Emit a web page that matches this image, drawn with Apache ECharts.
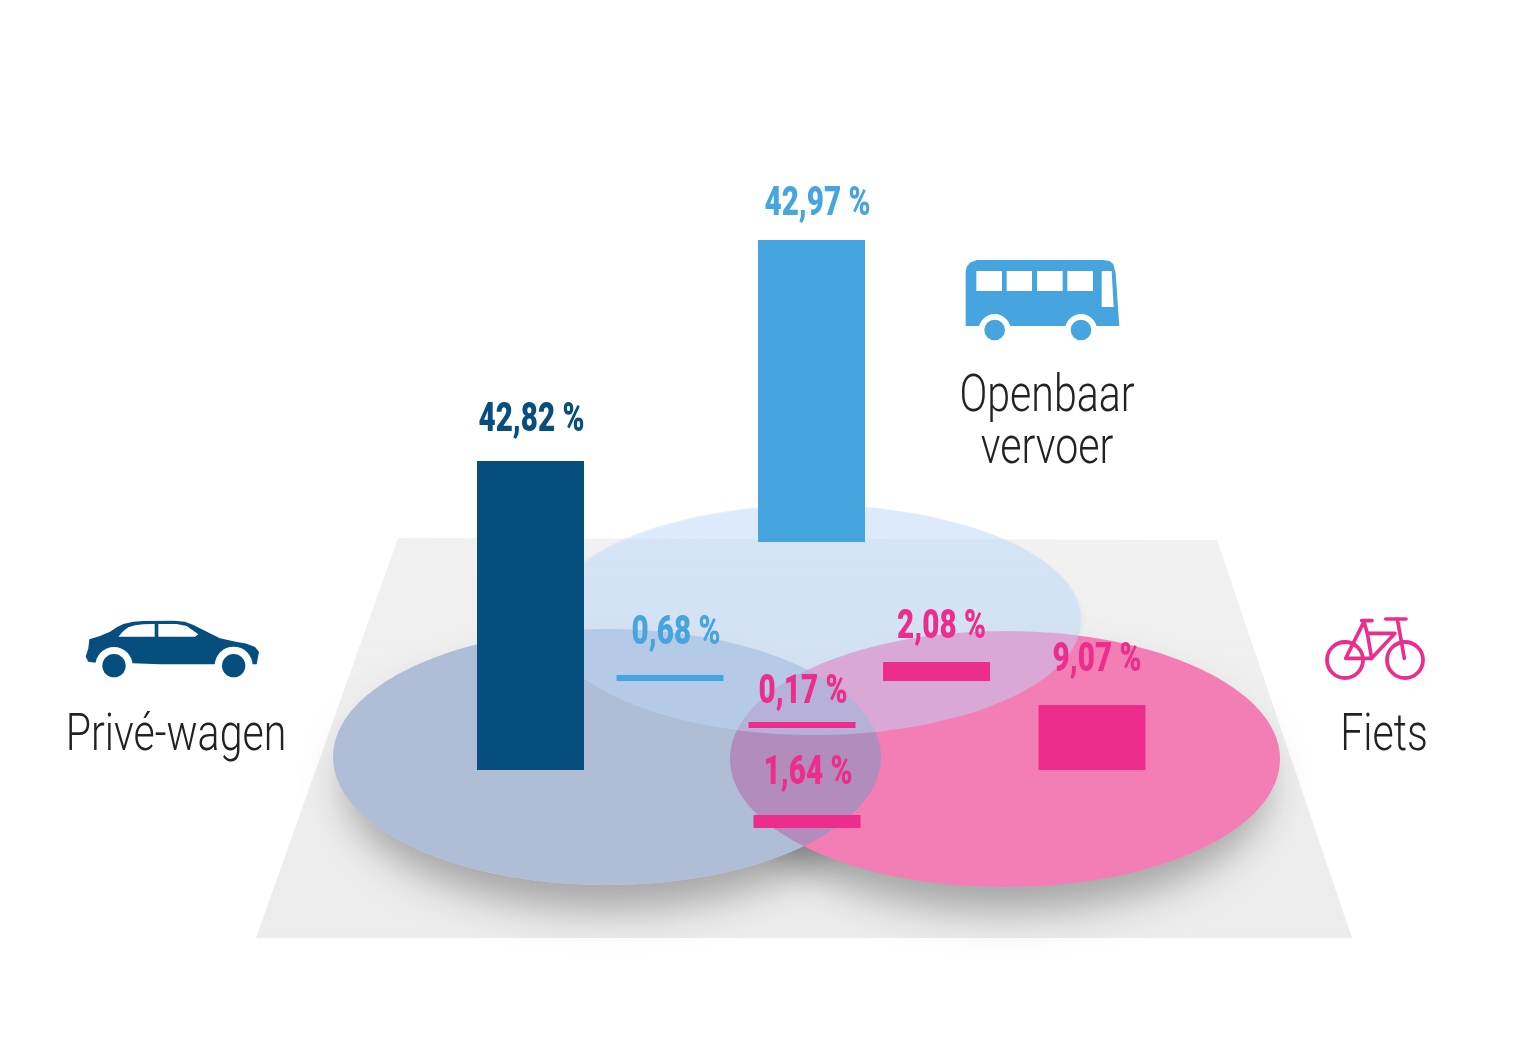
<!DOCTYPE html>
<html><head><meta charset="utf-8">
<style>html,body{margin:0;padding:0;background:#fff}#c{width:1529px;height:1046px}</style>
<script src="https://cdn.jsdelivr.net/npm/echarts@6/dist/echarts.min.js"></script>
</head><body><div id="c"></div>
<script>
// ---- data ----
const categories = ['Privé-wagen','Openbaar vervoer','Privé-wagen + openbaar vervoer','Alle drie','Privé-wagen + fiets','Openbaar vervoer + fiets','Fiets'];
const percentages = [42.82,42.97,0.68,0.17,1.64,2.08,9.07];
// bar lengths as drawn in the source (the small bars are thicker than scale), in axis units
const barLengths = [42.92,41.94,0.83,0.83,1.8,2.64,9.03];
const groupNames = ['Privé-wagen','Openbaar\nvervoer','Fiets'];

// ---- layout ----
const W=1529,H=1046,UNIT=7.2;
const barCenters=[530.5,811.5,670,802,807,936.5,1092];
const barBases=[38.33,70,50.69,44.17,30.28,50.69,38.33];
const labelDx=[1,6,6,1,1,5,5];
const labelGap=[26,21,27,15,27,20,30];
const BAR_W=107;
const DARK='#054e7e',BLUE='#46a5df',PINK='#ec2d8c';
const barColors=[DARK,BLUE,BLUE,PINK,PINK,PINK,PINK];
const BOLD='900 40px Roboto';
const LIGHT='300 52px Roboto';

const E=(cx,cy,rx,ry,style)=>({type:'ellipse',shape:{cx,cy,rx,ry},style,silent:true});
const shadowCaster=(cx,cy,rx,ry)=>E(cx-3000,cy,rx,ry,{fill:'#000',shadowBlur:38,shadowColor:'rgba(0,0,0,0.30)',shadowOffsetX:3000,shadowOffsetY:0});

const CAR={cx:607,cy:757,rx:274,ry:128}, BUS={cx:814,cy:620,rx:267,ry:115}, BIKE={cx:1005,cy:759,rx:275,ry:128};

function scaled(pts,ox,oy){return pts.map(p=>[p[0]/3+ox,p[1]/3+oy]);}
function poly(pts,ox,oy,fill){return {type:'polygon',shape:{points:scaled(pts,ox,oy)},style:{fill}};}
function circ(x,y,r,ox,oy,style){return {type:'circle',shape:{cx:x/3+ox,cy:y/3+oy,r:r/3},style};}
function line(pts,ox,oy){return {type:'polyline',shape:{points:scaled(pts,ox,oy)},style:{stroke:PINK,fill:null,lineWidth:3.6,lineCap:'round',lineJoin:'round'}};}

// car icon
const carBody=[[88,118],[120,108],[150,95],[170,82],[190,72],[220,65],[250,63],[340,62],[375,65],[400,75],[430,90],[480,115],[520,124],[560,131],[585,141],[597,155],[590,193],[300,193],[218,190],[107,188],[85,185],[77,170],[85,145]];
const carW1=[[175,110],[190,93],[205,82],[225,76],[250,73],[284,72],[284,110]];
const carW2=[[295,110],[295,72],[350,72],[380,78],[415,103],[405,110]];
const carIcon=[poly(carBody,60,600,DARK),
  circ(521,197,57,60,600,{fill:'#fff'}),circ(162,197,56,60,600,{fill:'#fff'}),
  circ(521,197,35,60,600,{fill:DARK}),circ(162,197,35,60,600,{fill:DARK}),
  poly(carW1,60,600,'#fff'),poly(carW2,60,600,'#fff')];
// bus icon
const busBody=[[47,228],[47,65],[50,50],[60,38],[80,30],[460,30],[478,33],[490,42],[497,70],[508,228]];
const busWins=[[79,156],[170,246],[261,338],[352,429]];
const busIcon=[poly(busBody,950,250,BLUE),
  circ(134,240,48,950,250,{fill:'#fff'}),circ(393,240,48,950,250,{fill:'#fff'}),
  circ(134,240,31,950,250,{fill:BLUE}),circ(393,240,31,950,250,{fill:BLUE}),
  ...busWins.map(w=>poly([[w[0],63],[w[1],63],[w[1],123],[w[0],123]],950,250,'#fff')),
  poly([[455,63],[485,63],[491,171],[455,171]],950,250,'#fff')];
// bike icon
const bs={fill:null,stroke:PINK,lineWidth:3.8};
const bikeIcon=[circ(105,165,54,1310,605,bs),circ(285,165,54,1310,605,bs),
  line([[155,47],[186,47]],1310,605),line([[227,42],[288,42]],1310,605),
  line([[162,50],[107,160],[185,160],[255,85],[172,85],[162,50]],1310,605),
  line([[172,85],[185,160]],1310,605),
  line([[262,42],[283,160]],1310,605)];

function label(text,x,y){return {type:'text',x,y,scaleX:0.79,style:{text,fill:'#222',font:LIGHT,textAlign:'center',textVerticalAlign:'middle'}};}

const background=[
  {type:'polygon',shape:{points:[[398,538],[1217,540],[1352,938],[256,938]]},style:{fill:new echarts.graphic.LinearGradient(0,0,0,1,[{offset:0,color:'#f1f1f1'},{offset:1,color:'#ececec'}])}},
  shadowCaster(CAR.cx,CAR.cy+26,CAR.rx-12,CAR.ry-2),
  shadowCaster(BIKE.cx,BIKE.cy+26,BIKE.rx-12,BIKE.ry-2),
  E(CAR.cx,CAR.cy,CAR.rx,CAR.ry,{fill:'#eeeeee'}),
  E(BUS.cx+2.5,BUS.cy+1,BUS.rx,BUS.ry,{fill:'rgba(170,200,235,0.10)'}),
  E(BIKE.cx,BIKE.cy,BIKE.rx,BIKE.ry,{fill:'#f27eb5'}),
  E(CAR.cx,CAR.cy,CAR.rx,CAR.ry,{fill:'rgba(123,152,194,0.55)'}),
  E(BUS.cx,BUS.cy,BUS.rx,BUS.ry,{fill:'rgba(190,218,249,0.46)'})
];
const names=[
  label(groupNames[0],176,737),
  label(groupNames[1].split('\n')[0],1047,398),
  label(groupNames[1].split('\n')[1],1047,450),
  label(groupNames[2],1384,737)
];

const chart=echarts.init(document.getElementById('c'),null,{renderer:'canvas'});
chart.setOption({
  animation:false,
  grid:{left:0,right:0,top:0,bottom:0},
  xAxis:{type:'value',min:0,max:W,show:false},
  yAxis:{type:'value',min:0,max:H/UNIT,show:false},
  graphic:{elements:[{type:'group',z:0,silent:true,children:background},
    {type:'group',z:5,silent:true,children:[...carIcon,...busIcon,...bikeIcon,...names]}]},
  series:[{
    type:'custom',
    name:'Aandeel',
    z:4,
    silent:true,
    data:categories.map((c,i)=>({name:c,value:[barCenters[i],barBases[i],barLengths[i],percentages[i],i]})),
    encode:{x:0,y:[1]},
    renderItem(params,api){
      const i=api.value(4),cx=api.value(0),base=api.value(1),len=api.value(2);
      const top=api.coord([cx,base+len]),bot=api.coord([cx,base]);
      const txt=percentages[i].toFixed(2).replace('.',',')+' %';
      return {type:'group',children:[
        {type:'rect',shape:{x:top[0]-BAR_W/2,y:top[1],width:BAR_W,height:bot[1]-top[1]},style:{fill:barColors[i]}},
        {type:'text',x:top[0]+labelDx[i],y:top[1]-labelGap[i]-14,scaleX:0.74,style:{text:txt,fill:barColors[i],font:BOLD,textAlign:'center',textVerticalAlign:'middle'}}
      ]};
    }
  }]
});
</script></body></html>
